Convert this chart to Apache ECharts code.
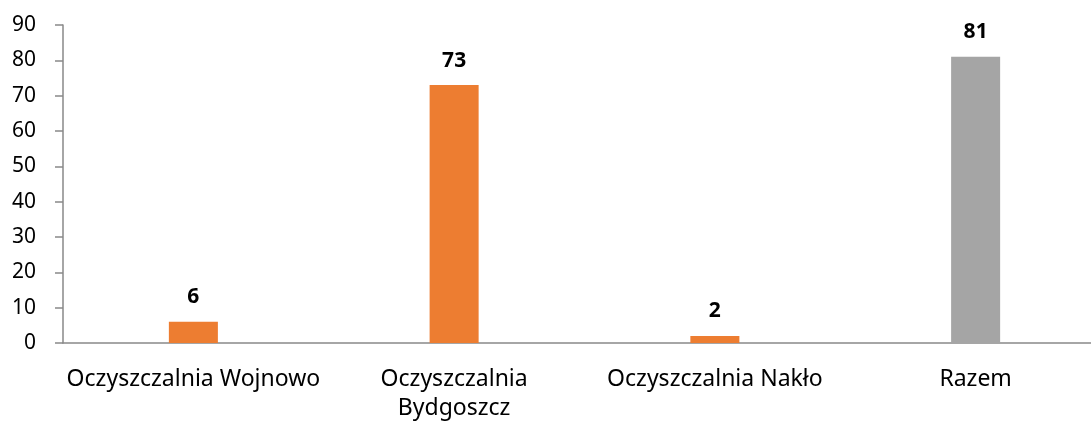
<!DOCTYPE html>
<html>
<head>
<meta charset="utf-8">
<script src="https://cdn.jsdelivr.net/npm/echarts@6/dist/echarts.min.js"></script>
<style>
  html, body { margin: 0; padding: 0; background: #fff; }
  #chart { width: 1091px; height: 421px; }
</style>
</head>
<body>
<div id="chart"></div>
<script>
// Wastewater plants and total
const categories = ['Oczyszczalnia Wojnowo', 'Oczyszczalnia\nBydgoszcz', 'Oczyszczalnia Nakło', 'Razem'];
const values = [6, 73, 2, 81];
const yTicks = { min: 0, max: 90, interval: 10 };

const plantColor = '#ED7D31';
const totalColor = '#A5A5A5';
const axisColor = '#898989';
const fontFamily = '"Noto Sans", "Open Sans", sans-serif';

const chart = echarts.init(document.getElementById('chart'));
chart.setOption({
  animation: false,
  // plot runs a little past the right edge of the canvas
  grid: {
    left: 63, width: 1043, top: 25, bottom: 78,
    containLabel: false,
    outerBoundsMode: 'none'
  },
  xAxis: {
    type: 'category',
    data: categories,
    axisLine: { lineStyle: { color: axisColor, width: 1.5 } },
    axisTick: { show: false },
    axisLabel: {
      interval: 0,
      margin: 22,
      color: '#000',
      fontSize: 23,
      lineHeight: 29,
      fontFamily: fontFamily
    }
  },
  yAxis: {
    type: 'value',
    min: yTicks.min,
    max: yTicks.max,
    interval: yTicks.interval,
    splitLine: { show: false },
    axisLine: { show: true, lineStyle: { color: axisColor, width: 1.5 } },
    axisTick: { show: true, length: 8, lineStyle: { color: axisColor, width: 1.5 } },
    axisLabel: {
      margin: 27,
      color: '#000',
      fontSize: 21,
      fontFamily: fontFamily
    }
  },
  series: [{
    type: 'bar',
    data: values.map((v, i) => ({
      value: v,
      itemStyle: { color: i === values.length - 1 ? totalColor : plantColor }
    })),
    barWidth: '18.8%',
    label: {
      show: true,
      position: 'top',
      distance: 14,
      color: '#000',
      fontWeight: 'bold',
      fontSize: 21,
      fontFamily: fontFamily
    }
  }]
});
</script>
</body>
</html>
